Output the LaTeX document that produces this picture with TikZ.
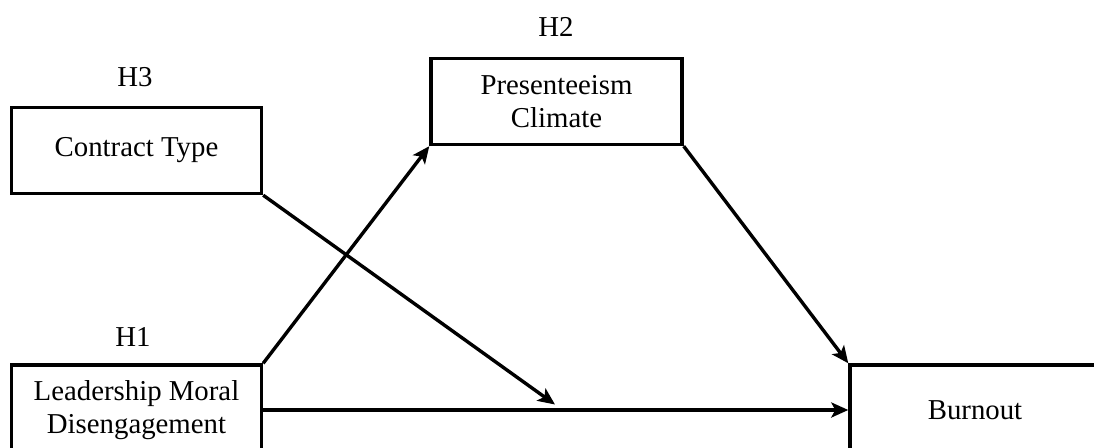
\documentclass[tikz,border=0pt]{standalone}
\usepackage{fontspec}
\setmainfont{Liberation Serif}
\usetikzlibrary{arrows.meta}
\tikzset{
  varbox/.style={draw,line width=1.7pt,align=center,minimum width=125pt,minimum height=43pt,inner sep=2pt},
  path/.style={line width=1.7pt,-{Stealth[length=8.5pt,width=7.5pt,inset=2pt]}}
}
\begin{document}
\begin{tikzpicture}[x=0.5pt,y=-0.5pt,font=\fontsize{14.4}{16.5}\selectfont]
  \useasboundingbox (0,0) rectangle (1094,448);
  \clip (0,0) rectangle (1094,448);
  % variables
  \node[varbox,text depth=4pt] (ct) at (136.5,150.5) {Contract Type};
  \node[varbox,minimum width=125.5pt] (pc) at (556.5,101.5) {Presenteeism\\Climate};
  \node[varbox,minimum height=45pt] (lmd) at (136.5,410) {Leadership Moral\\Disengagement};
  \node[varbox,minimum height=45pt] (bo) at (975,410) {Burnout};
  % hypotheses
  \node (h3) at (135,77) {H3};
  \node (h2) at (556,27) {H2};
  \node (h1) at (133,337) {H1};
  \coordinate (mod) at (555,404.5);
  % paths
  \draw[path] (lmd.north east) -- (pc.south west);
  \draw[path] (pc.south east) -- (bo.north west);
  \draw[path] (lmd.east) -- (bo.west);
  \draw[path] (ct.south east) -- (mod);
\end{tikzpicture}
\end{document}
